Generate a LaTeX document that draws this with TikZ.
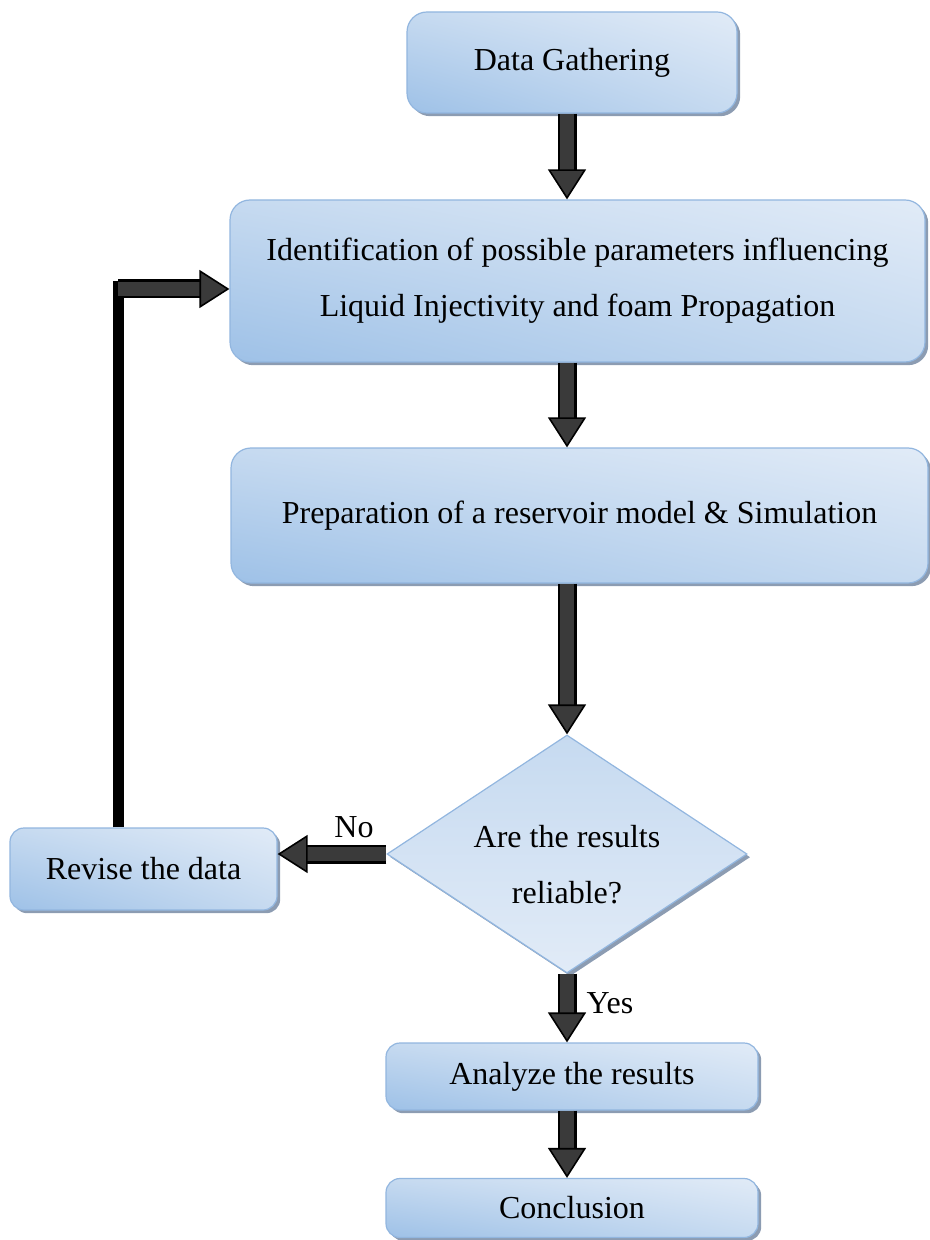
\documentclass[tikz,border=0pt]{standalone}
\usepackage{fontspec}
\setmainfont{Liberation Serif}
\usetikzlibrary{arrows.meta,positioning,calc,shapes.geometric,shadows,shadings}

\definecolor{boxlight}{HTML}{E1EBF7}
\definecolor{boxmid}{HTML}{C6DAF0}
\definecolor{boxdark}{HTML}{9EC1E7}
\definecolor{boxedge}{HTML}{92B6DF}
\definecolor{boxshadow}{HTML}{8C9CB2}
\definecolor{arrowgray}{HTML}{3A3A3A}

\tikzset{
  procbox/.style={rectangle, rounded corners=10pt, draw=boxedge, line width=0.6pt,
    upper left=boxmid, upper right=boxlight, lower left=boxdark, lower right=boxmid,
    drop shadow={shadow xshift=1.6pt, shadow yshift=-1.6pt, fill=boxshadow, opacity=1},
    align=center, inner sep=0pt},
  decision/.style={diamond, aspect=1.5, draw=boxedge, line width=0.6pt,
    upper left=boxmid, upper right=boxmid, lower left=boxlight, lower right=boxlight,
    drop shadow={shadow xshift=1.6pt, shadow yshift=-1.6pt, fill=boxshadow, opacity=1},
    inner sep=0pt},
  fatarrow/.style={line width=7pt, draw=arrowgray,
    -{Triangle[length=15pt, width=19pt, line width=0.8pt, color=black, fill=arrowgray]},
    preaction={draw=black, line width=9.5pt, -, shorten >=13pt}},
  fbline/.style={draw=black, line width=5.5pt},
  every node/.style={font=\fontsize{16}{28}\selectfont}
}

\begin{document}
\begin{tikzpicture}[x=0.5pt, y=-0.5pt]
  \useasboundingbox (0,0) rectangle (930,1240);

  % boxes
  \node[procbox, minimum width=165pt, minimum height=50.5pt] (gather) at (572,62.5) {Data Gathering};
  \node[procbox, minimum width=347.5pt, minimum height=81pt] (ident) at (577.5,281)
    {Identification of possible parameters influencing\\Liquid Injectivity and foam Propagation};
  \node[procbox, minimum width=348.5pt, minimum height=67.5pt] (prep) at (579.5,515.5)
    {Preparation of a reservoir model \& Simulation};
  \node[decision, minimum width=180pt, minimum height=119pt] (decide) at (567,854) {};
  \node[align=center] (decidetxt) at ($(decide)+(0,11)$) {Are the results\\reliable?};
  \node[procbox, rounded corners=7pt, minimum width=133.5pt, minimum height=41pt] (revise) at (143.5,869) {Revise the data};
  \node[procbox, rounded corners=7pt, minimum width=186pt, minimum height=33.5pt] (analyze) at (572,1076.5) {Analyze the results};
  \node[procbox, rounded corners=7pt, minimum width=186pt, minimum height=29.5pt] (concl) at (572,1208) {Conclusion};

  % labels
  \node (nolbl) at (354,827) {No};
  \node (yeslbl) at (610,1003) {Yes};

  % arrows
  \draw[fatarrow] (gather.south -| decide) -- (ident.north -| decide);
  \draw[fatarrow] (ident.south -| decide) -- (prep.north -| decide);
  \draw[fatarrow] (prep.south -| decide) -- (decide.north);
  \draw[fatarrow] (decide.west) -- (decide.west -| revise.east);
  \draw[fatarrow] (decide.south) -- (analyze.north -| decide);
  \draw[fatarrow] (analyze.south -| decide) -- (concl.north -| decide);

  % feedback loop
  \coordinate (fbturn) at (118,289);
  \draw[fbline, shorten >=-4pt] (revise.north -| fbturn) -- (fbturn);
  \draw[fatarrow] (fbturn) -- (fbturn -| ident.west);
\end{tikzpicture}
\end{document}
